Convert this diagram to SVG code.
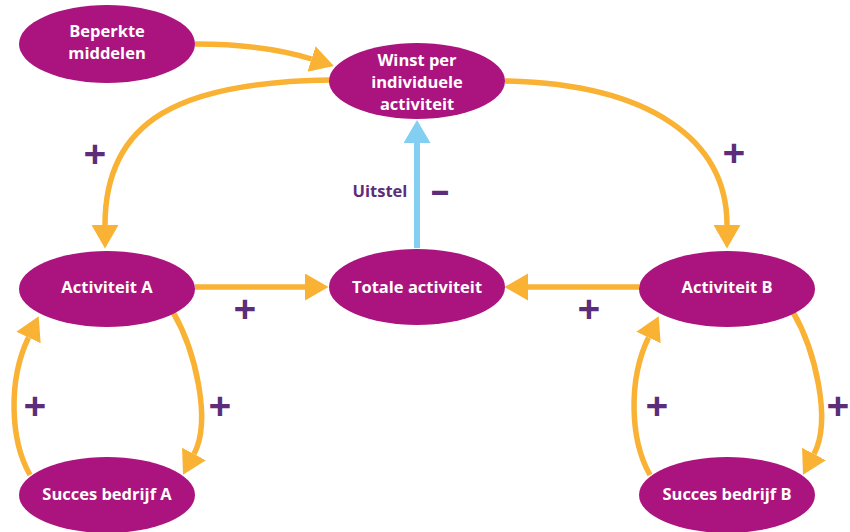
<svg xmlns="http://www.w3.org/2000/svg" width="850" height="532" viewBox="0 0 850 532">
<style>
.node{fill:#AB147E}
.nt{fill:#fff;font-family:"Open Sans","Liberation Sans",sans-serif;font-weight:bold;font-size:16.5px;text-anchor:middle}
.c{fill:none;stroke:#F9B233;stroke-width:5.5}
.cb{fill:none;stroke:#82CFF1;stroke-width:6}
.sign{fill:#5B2D7A;font-family:"Open Sans","Liberation Sans",sans-serif;font-weight:bold;text-anchor:middle}
.plus{font-size:40px}
</style>
<defs>
<marker id="ao" markerUnits="userSpaceOnUse" markerWidth="24" markerHeight="28" refX="0" refY="13.5" orient="auto" viewBox="0 0 24 28">
<path d="M0,0 L23.5,13.5 L0,27 z" fill="#F9B233"/>
</marker>
<marker id="ab" markerUnits="userSpaceOnUse" markerWidth="24" markerHeight="28" refX="0" refY="13.5" orient="auto" viewBox="0 0 24 28">
<path d="M0,0 L23,13.5 L0,27 z" fill="#82CFF1"/>
</marker>
</defs>
<g id="connectors">
<path class="c" d="M195,44 C245,44 280,49 311.5,59" marker-end="url(#ao)"/>
<path class="c" d="M330,80 C180,82 105,120 105,225" marker-end="url(#ao)"/>
<path class="c" d="M505,81 C650,84 727,140 727,225" marker-end="url(#ao)"/>
<path class="c" d="M195,287 L305,287" marker-end="url(#ao)"/>
<path class="c" d="M639,287 L528,287" marker-end="url(#ao)"/>
<path class="cb" d="M417,248 L417,143" marker-end="url(#ab)"/>
<path class="c" d="M173,312 C195,350 212,420 194,454" marker-end="url(#ao)"/>
<path class="c" d="M30,475 C10,440 8,380 28.5,337.5" marker-end="url(#ao)"/>
<path class="c" d="M793,312 C815,350 832,420 814,454" marker-end="url(#ao)"/>
<path class="c" d="M650,475 C630,440 628,380 648.5,337.5" marker-end="url(#ao)"/>
</g>
<g id="beperkte-middelen">
<ellipse class="node" cx="107" cy="44" rx="88" ry="39"/>
<text class="nt" x="107" y="37">Beperkte</text>
<text class="nt" x="107" y="59">middelen</text>
</g>
<g id="winst">
<ellipse class="node" cx="417" cy="81" rx="88" ry="38"/>
<text class="nt" x="417" y="66">Winst per</text>
<text class="nt" x="417" y="88">individuele</text>
<text class="nt" x="417" y="110">activiteit</text>
</g>
<g id="activiteit-a">
<ellipse class="node" cx="107" cy="289" rx="88" ry="38"/>
<text class="nt" x="107" y="293">Activiteit A</text>
</g>
<g id="totale-activiteit">
<ellipse class="node" cx="417" cy="287" rx="88" ry="38"/>
<text class="nt" x="417" y="293">Totale activiteit</text>
</g>
<g id="activiteit-b">
<ellipse class="node" cx="727" cy="289" rx="88" ry="38"/>
<text class="nt" x="727" y="293">Activiteit B</text>
</g>
<g id="succes-a">
<ellipse class="node" cx="107" cy="495" rx="88" ry="38"/>
<text class="nt" x="107" y="500">Succes bedrijf A</text>
</g>
<g id="succes-b">
<ellipse class="node" cx="727" cy="495" rx="88" ry="38"/>
<text class="nt" x="727" y="500">Succes bedrijf B</text>
</g>
<g id="labels">
<text class="sign plus" x="95" y="168">+</text>
<text class="sign plus" x="734" y="167">+</text>
<text class="sign plus" x="245" y="323">+</text>
<text class="sign plus" x="589" y="323">+</text>
<text class="sign plus" x="35" y="420">+</text>
<text class="sign plus" x="220" y="420">+</text>
<text class="sign plus" x="657" y="420">+</text>
<text class="sign plus" x="838" y="420">+</text>
<text class="sign" x="380" y="197" font-size="16.5">Uitstel</text>
<text class="sign" x="440" y="203" font-size="38">–</text>
</g>
</svg>
